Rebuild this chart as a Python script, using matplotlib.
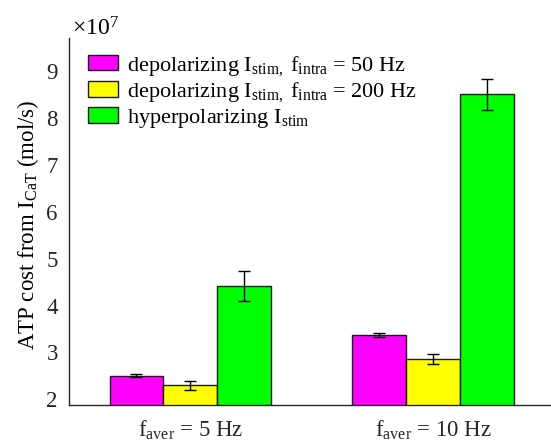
import numpy as np
import matplotlib
matplotlib.use('Agg')
import matplotlib.pyplot as plt

plt.rcParams['font.family'] = ['Liberation Serif', 'DejaVu Serif']
plt.rcParams['mathtext.fontset'] = 'custom'
plt.rcParams['mathtext.rm'] = 'Liberation Serif'
plt.rcParams['mathtext.it'] = 'Liberation Serif:italic'

groups = ['f$_\\mathrm{aver}$ = 5 Hz', 'f$_\\mathrm{aver}$ = 10 Hz']
series = [
    'depolarizing I$_\\mathrm{stim,}$ f$_\\mathrm{intra}$ = 50 Hz',
    'depolarizing I$_\\mathrm{stim,}$ f$_\\mathrm{intra}$ = 200 Hz',
    'hyperpolarizing I$_\\mathrm{stim}$',
]
colors = ['#FF00FF', '#FFFF00', '#00FF00']
# values in units of 1e7 mol/s
means = [
    [2.50, 3.37],
    [2.30, 2.87],
    [4.42, 8.50],
]
errs = [
    [0.03, 0.045],
    [0.09, 0.107],
    [0.315, 0.33],
]

fig = plt.figure(figsize=(5.51, 4.45), dpi=100)
ax = fig.add_axes([0.1252, 0.0899, 0.881, 0.8247])

x = np.arange(1, len(groups) + 1)
w = 0.222
for i, (lab, col) in enumerate(zip(series, colors)):
    xs = x + (i - 1) * w
    ax.bar(xs, np.array(means[i]) * 1e7, width=w, color=col,
           edgecolor='#1a1a1a', linewidth=1.0, label=lab, zorder=2)
    ax.errorbar(xs, np.array(means[i]) * 1e7, yerr=np.array(errs[i]) * 1e7,
                fmt='none', ecolor='black', elinewidth=1.0, capsize=4,
                capthick=1.0, zorder=3)

ax.set_xlim(0.5, 2.5)
ax.set_ylim(1.88e7, 9.7e7)
ax.set_yticks(np.arange(2, 10) * 1e7)
ax.set_yticklabels([str(v) for v in range(2, 10)], fontsize=16.5)
ax.set_xticks(x)
ax.set_xticklabels(groups, fontsize=16.5)
ax.tick_params(axis='both', length=0, colors='#262626')
ax.tick_params(axis='x', pad=10)
ax.tick_params(axis='y', pad=8)
for s in ['top', 'right']:
    ax.spines[s].set_visible(False)
for s in ['left', 'bottom']:
    ax.spines[s].set_color('#262626')
    ax.spines[s].set_linewidth(1.0)

ax.set_ylabel('ATP cost from I$_\\mathrm{CaT}$ (mol/s)', fontsize=16.5)
ax.yaxis.set_label_coords(-0.058, 0.49)
fig.text(0.13, 0.921, '×10$^{7}$', fontsize=17, ha='left', va='baseline')

leg = ax.legend(loc='upper left', bbox_to_anchor=(0.0, 1.009), frameon=False,
                fontsize=16, handlelength=1.35, handleheight=0.68,
                handletextpad=0.4, labelspacing=0.12, borderaxespad=0.45)

fig.savefig('out.png', dpi=100)
